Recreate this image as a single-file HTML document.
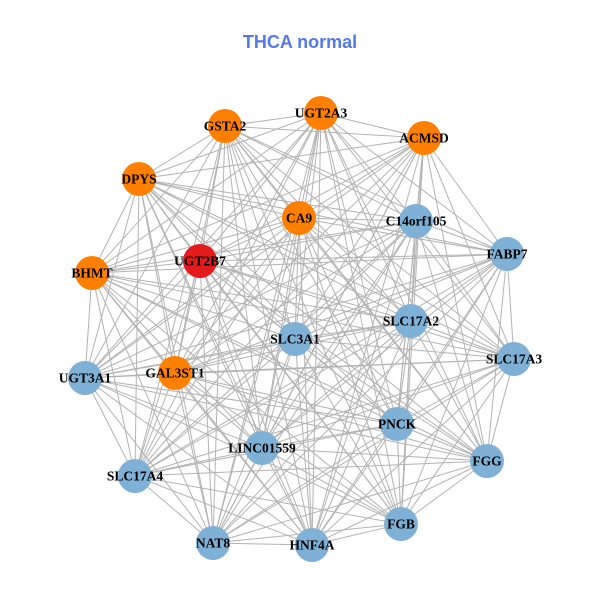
<!DOCTYPE html>
<html><head><meta charset="utf-8"><style>
html,body{margin:0;padding:0;background:#fff;width:600px;height:600px;overflow:hidden}
svg text{font-family:"Liberation Serif",serif;font-weight:bold;font-size:13.5px;fill:#000;text-anchor:middle;dominant-baseline:central}
</style></head><body>
<svg id="s" width="600" height="600" xmlns="http://www.w3.org/2000/svg">
<g id="e" stroke="#b3b3b3" stroke-width="1"></g><g id="n"></g><g id="t"></g>
<text x="300" y="42" style="font-family:'Liberation Sans',sans-serif;font-size:18px;fill:#5479e8;font-weight:bold">THCA normal</text>
</svg>
<script>
var N=[["GSTA2",225,126,"o"],["UGT2A3",321,113,"o"],["ACMSD",424,138,"o"],["DPYS",139,179,"o"],["CA9",299,218,"o"],["C14orf105",416,221,"b"],["UGT2B7",200,261,"r"],["BHMT",92,273,"o"],["FABP7",507,254,"b"],["SLC17A2",411,321,"b"],["SLC3A1",295,339,"b"],["SLC17A3",514,359,"b"],["GAL3ST1",175,373,"o"],["UGT3A1",85,378,"b"],["PNCK",397,424,"b"],["LINC01559",262,448,"b"],["FGG",487,461,"b"],["SLC17A4",135,476,"b"],["FGB",401,524,"b"],["NAT8",213,543,"b"],["HNF4A",312,545,"b"]];
var C={o:"#ff8000",b:"#7fb0d5",r:"#e41a1c"};
var ns="http://www.w3.org/2000/svg",e=document.getElementById("e"),n=document.getElementById("n"),t=document.getElementById("t");
for(var i=0;i<N.length;i++)for(var j=i+1;j<N.length;j++){var l=document.createElementNS(ns,"line");l.setAttribute("x1",N[i][1]);l.setAttribute("y1",N[i][2]);l.setAttribute("x2",N[j][1]);l.setAttribute("y2",N[j][2]);e.appendChild(l);}
N.forEach(function(d){var c=document.createElementNS(ns,"circle");c.setAttribute("cx",d[1]);c.setAttribute("cy",d[2]);c.setAttribute("r",17);c.setAttribute("fill",C[d[3]]);n.appendChild(c);var x=document.createElementNS(ns,"text");x.setAttribute("x",d[1]);x.setAttribute("y",d[2]);x.textContent=d[0];t.appendChild(x);});
</script>
</body></html>
